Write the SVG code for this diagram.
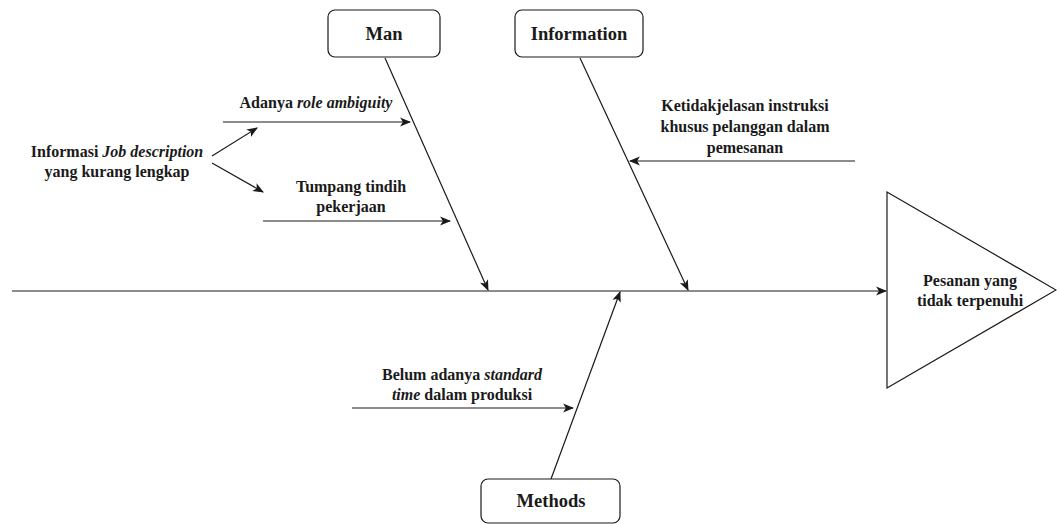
<svg xmlns="http://www.w3.org/2000/svg" width="1057" height="524" viewBox="0 0 1057 524">
<style>
.box{fill:#fff;stroke:#1a1a1a;stroke-width:1.2}
.ln{stroke:#1a1a1a;stroke-width:1.2;fill:none}
.t{font-family:"Liberation Serif","Times New Roman",serif;font-weight:bold;fill:#1a1a1a;text-anchor:middle}
.s{font-size:16px}
.h{font-size:18.5px}
.i{font-style:italic}
</style>
<defs>
<marker id="ar" viewBox="0 0 10 10" refX="9" refY="5" markerWidth="11" markerHeight="11" markerUnits="userSpaceOnUse" orient="auto">
<path d="M0,1 L10,5 L0,9 L2.5,5 Z" fill="#1a1a1a"/>
</marker>
</defs>
<rect width="1057" height="524" fill="#fff"/>
<g id="connectors">
<line class="ln" x1="12" y1="291" x2="886" y2="291" marker-end="url(#ar)"/>
<line class="ln" x1="385" y1="58" x2="488" y2="290" marker-end="url(#ar)"/>
<line class="ln" x1="580" y1="58" x2="688" y2="290" marker-end="url(#ar)"/>
<line class="ln" x1="551" y1="479" x2="620" y2="292" marker-end="url(#ar)"/>
<line class="ln" x1="223" y1="122" x2="410" y2="122" marker-end="url(#ar)"/>
<line class="ln" x1="263" y1="221" x2="450" y2="221" marker-end="url(#ar)"/>
<line class="ln" x1="212" y1="156" x2="257" y2="128" marker-end="url(#ar)"/>
<line class="ln" x1="212" y1="163" x2="263" y2="192" marker-end="url(#ar)"/>
<line class="ln" x1="855" y1="161" x2="630" y2="161" marker-end="url(#ar)"/>
<line class="ln" x1="352" y1="408" x2="573" y2="408" marker-end="url(#ar)"/>
</g>
<g id="man">
<rect class="box" x="328" y="10" width="112" height="47" rx="7"/>
<text class="t h" x="384" y="40">Man</text>
</g>
<g id="information">
<rect class="box" x="515" y="10" width="128" height="47" rx="7"/>
<text class="t h" x="579" y="40">Information</text>
</g>
<g id="methods">
<rect class="box" x="481" y="479" width="139" height="44" rx="7"/>
<text class="t h" x="551" y="507">Methods</text>
</g>
<g id="effect">
<polygon class="box" points="887,192 887,388 1056,290"/>
<text class="t s" x="970" y="286">Pesanan yang</text>
<text class="t s" x="970" y="306">tidak terpenuhi</text>
</g>
<g id="role-ambiguity">
<text class="t s" x="316" y="108">Adanya <tspan class="i">role ambiguity</tspan></text>
</g>
<g id="tumpang-tindih">
<text class="t s" x="351" y="192">Tumpang tindih</text>
<text class="t s" x="351" y="212">pekerjaan</text>
</g>
<g id="job-description">
<text class="t s" x="117" y="157">Informasi <tspan class="i">Job description</tspan></text>
<text class="t s" x="117" y="177">yang kurang lengkap</text>
</g>
<g id="ketidakjelasan">
<text class="t s" x="745" y="111">Ketidakjelasan instruksi</text>
<text class="t s" x="745" y="132">khusus pelanggan dalam</text>
<text class="t s" x="745" y="153">pemesanan</text>
</g>
<g id="standard-time">
<text class="t s" x="462" y="380">Belum adanya <tspan class="i">standard</tspan></text>
<text class="t s" x="462" y="400"><tspan class="i">time</tspan> dalam produksi</text>
</g>
</svg>
